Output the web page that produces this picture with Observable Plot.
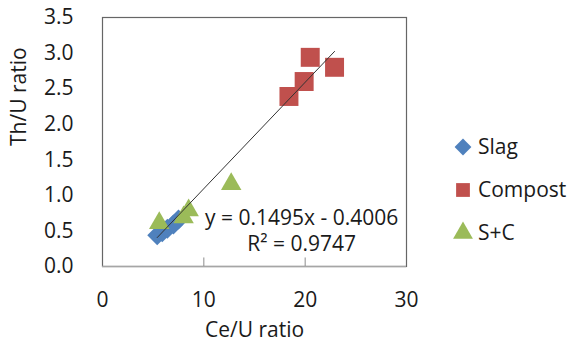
<!DOCTYPE html>
<html>
<head>
<meta charset="utf-8">
<script src="https://cdn.jsdelivr.net/npm/d3@7"></script>
<script src="https://cdn.jsdelivr.net/npm/@observablehq/plot@0.6"></script>
<style>
  body { margin: 0; background: #fff; }
  #wrap { position: relative; width: 574px; height: 347px; font-family: "Open Sans", sans-serif; }
  #legend { position: absolute; left: 452px; top: 124px; font-size: 21px; color: #1a1a1a; }
  .row { display: flex; align-items: center; height: 43px; }
  .row svg { margin-right: 4px; }
</style>
</head>
<body>
<div id="wrap"></div>
<script>
// ---- data ----
const slagX = [5.4, 5.9, 6.4, 7.0, 7.5];
const slagY = [0.44, 0.48, 0.53, 0.59, 0.66];
const compostX = [18.4, 19.9, 20.5, 22.9];
const compostY = [2.39, 2.60, 2.94, 2.80];
const scX = [5.6, 8.0, 8.5, 12.7];
const scY = [0.61, 0.69, 0.79, 1.16];
const seriesNames = ["Slag", "Compost", "S+C"];
const seriesColors = ["#4F81BD", "#C0504D", "#9BBB59"];
const xTicks = [0, 10, 20, 30];
const yTicks = [0, 0.5, 1, 1.5, 2, 2.5, 3, 3.5];
const trendSlope = 0.1495;
const trendIntercept = -0.4006;
const eqText = "y = 0.1495x - 0.4006";
const r2Text = "R² = 0.9747";
const eqPos = {x: 19.65, y: 0.675};
const r2Pos = {x: 19.65, y: 0.31};
const xLabel = "Ce/U ratio";
const yLabel = "Th/U ratio";

const toRows = (xs, ys, s) => xs.map((x, i) => ({x, y: ys[i], s}));
const slag = toRows(slagX, slagY, "Slag");
const compost = toRows(compostX, compostY, "Compost");
const sc = toRows(scX, scY, "S+C");
const allX = [...slagX, ...compostX, ...scX];
const xExt = d3.extent(allX);
const trend = xExt.map(x => ({x, y: trendSlope * x + trendIntercept}));

const font = "Open Sans, sans-serif";
const chart = Plot.plot({
  width: 574,
  height: 347,
  marginLeft: 102,
  marginRight: 168,
  marginTop: 17,
  marginBottom: 81,
  style: {fontFamily: font, fontSize: "21px", color: "#1a1a1a", background: "#fff"},
  x: {domain: [0, 30], ticks: xTicks, label: null},
  y: {domain: [0, 3.5], ticks: yTicks, label: null},
  marks: [
    Plot.frame({stroke: "#666", strokeWidth: 1.2}),
    Plot.ruleY([0], {stroke: "#a6a6a6", strokeWidth: 1.5}),
    Plot.ruleX(xTicks.slice(1, -1), {x: d => d, y1: 0, y2: 0.12, stroke: "#8c8c8c"}),
    Plot.axisX({ticks: xTicks, tickSize: 0, tickPadding: 26, tickFormat: d => String(d), fontSize: 21, label: null}),
    Plot.axisY({ticks: yTicks, tickSize: 0, tickPadding: 29, tickFormat: d3.format(".1f"), fontSize: 21, label: null}),
    Plot.dot(slag, {x: "x", y: "y", symbol: "diamond2", r: 9, fill: seriesColors[0], stroke: "none"}),
    Plot.dot(compost, {x: "x", y: "y", symbol: "square", r: 10.7, fill: seriesColors[1], stroke: "none"}),
    Plot.dot(sc, {x: "x", y: "y", symbol: "triangle", r: 7.6, fill: seriesColors[2], stroke: "none"}),
    Plot.line(trend, {x: "x", y: "y", stroke: "#333", strokeWidth: 1}),
    Plot.text([eqText], {x: eqPos.x, y: eqPos.y, text: d => d, textAnchor: "middle", fontSize: 21, fill: "#1a1a1a"}),
    Plot.text([r2Text], {x: r2Pos.x, y: r2Pos.y, text: d => d, textAnchor: "middle", fontSize: 21, fill: "#1a1a1a"}),
    Plot.text([xLabel], {frameAnchor: "bottom", dy: 70, text: d => d, fontSize: 21, fill: "#1a1a1a"}),
    Plot.text([yLabel], {frameAnchor: "left", dx: -83, dy: 4, rotate: -90, text: d => d, fontSize: 21, fill: "#1a1a1a"})
  ]
});
const wrap = document.getElementById("wrap");
wrap.appendChild(chart);

// legend
const legend = document.createElement("div");
legend.id = "legend";
const symTypes = [d3.symbolDiamond2, d3.symbolSquare, d3.symbolTriangle];
const symSizes = [180, 190, 170];
seriesNames.forEach((name, i) => {
  const row = document.createElement("div");
  row.className = "row";
  const svg = d3.create("svg").attr("width", 22).attr("height", 22);
  svg.append("path")
    .attr("transform", "translate(11,12)")
    .attr("d", d3.symbol(symTypes[i], symSizes[i])())
    .attr("fill", seriesColors[i]);
  row.appendChild(svg.node());
  const span = document.createElement("span");
  span.textContent = name;
  row.appendChild(span);
  legend.appendChild(row);
});
wrap.appendChild(legend);
</script>
</body>
</html>
